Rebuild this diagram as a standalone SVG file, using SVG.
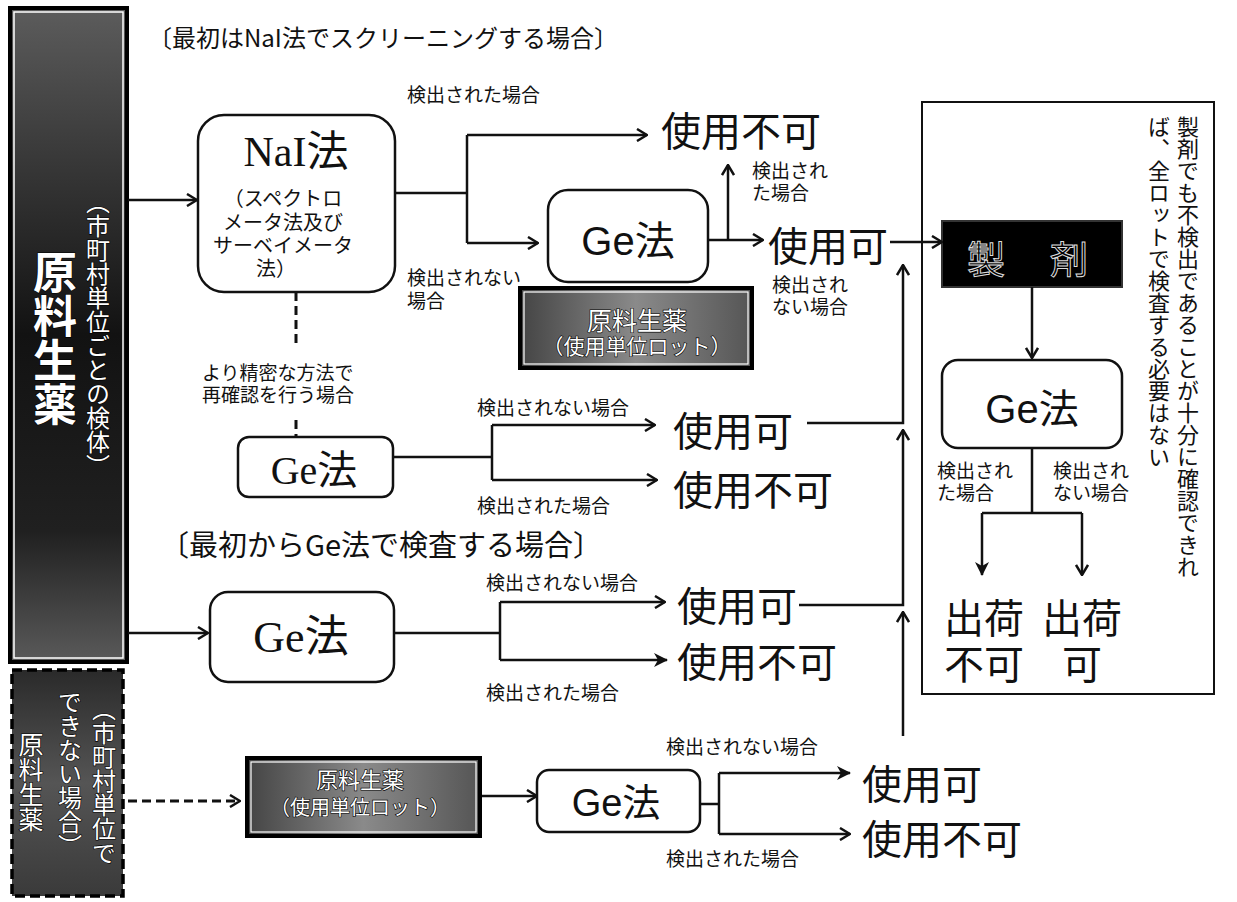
<svg xmlns="http://www.w3.org/2000/svg" width="1237" height="902" viewBox="0 0 1237 902">
<style>
.bg{fill:#fff}
.ln{fill:none;stroke:#111;stroke-width:2.5}
.dash{fill:none;stroke:#111;stroke-width:3;stroke-dasharray:9 5}
.box{fill:#fff;stroke:#111;stroke-width:2.5}
.jp{font-family:"Noto Sans CJK JP","Noto Sans CJK SC",sans-serif;fill:#111}
.big{font-family:"Noto Sans CJK JP",sans-serif;font-size:40px;fill:#111}
.lab{font-family:"Noto Sans CJK JP",sans-serif;font-size:19px;fill:#111}
.ser{font-family:"Liberation Serif","Noto Sans CJK JP",serif;fill:#111}
.san{font-family:"Liberation Sans","Noto Sans CJK JP",sans-serif;fill:#111}
.wt{font-family:"Noto Sans CJK JP",sans-serif;fill:#fff;stroke:#000;stroke-width:1.2;paint-order:stroke}
.vt{writing-mode:vertical-rl}
</style>
<defs>
<marker id="ah" viewBox="0 0 12 14" refX="11" refY="7" markerWidth="12" markerHeight="14" markerUnits="userSpaceOnUse" orient="auto">
<path d="M1,1 L11,7 L1,13" fill="none" stroke="#111" stroke-width="2.5"/>
</marker>
<marker id="af" viewBox="0 0 14 14" refX="13" refY="7" markerWidth="14" markerHeight="14" markerUnits="userSpaceOnUse" orient="auto">
<path d="M0,0 L14,7 L0,14 L4,7 Z" fill="#111"/>
</marker>
<linearGradient id="dk" x1="0" y1="0" x2="0" y2="1">
<stop offset="0" stop-color="#5c5c5c"/>
<stop offset="0.22" stop-color="#3a3a3a"/>
<stop offset="0.5" stop-color="#121212"/>
<stop offset="0.8" stop-color="#202020"/>
<stop offset="1" stop-color="#5a5a5a"/>
</linearGradient>
<linearGradient id="dk2" x1="0" y1="0" x2="0" y2="1">
<stop offset="0" stop-color="#2a2a2a"/>
<stop offset="0.5" stop-color="#555"/>
<stop offset="1" stop-color="#3a3a3a"/>
</linearGradient>
<linearGradient id="gr" x1="0" y1="0" x2="1" y2="0">
<stop offset="0" stop-color="#444"/>
<stop offset="0.5" stop-color="#8a8a8a"/>
<stop offset="1" stop-color="#555"/>
</linearGradient>
</defs>
<rect class="bg" x="0" y="0" width="1237" height="902"/>

<text id="title1" class="jp" x="148" y="47" font-size="24">〔最初はNaI法でスクリーニングする場合〕</text>
<text id="title2" class="jp" x="160" y="556" font-size="29">〔最初からGe法で検査する場合〕</text>

<g id="src-main">
<rect x="10" y="8" width="117" height="654" fill="url(#dk)" stroke="#000" stroke-width="4"/>
<rect x="14" y="12" width="109" height="646" fill="none" stroke="#fff" stroke-width="1.5"/>
<text class="wt vt" x="55" y="250" font-size="44" font-weight="700" stroke-width="1.5">原料生薬</text>
<text class="wt vt" x="98" y="190" font-size="24">（市町村単位ごとの検体）</text>
</g>

<g id="src-other">
<rect x="12" y="670" width="111" height="226" fill="url(#dk2)" stroke="#000" stroke-width="3.5" stroke-dasharray="10 5"/>
<text class="wt vt" x="104" y="697" font-size="24">（市町村単位で</text>
<text class="wt vt" x="70" y="690" font-size="24">できない場合）</text>
<text class="wt vt" x="31" y="732" font-size="25">原料生薬</text>
</g>

<g id="nai">
<rect class="box" x="198" y="115" width="197" height="177" rx="26"/>
<text class="ser" x="296" y="166" font-size="42" text-anchor="middle">NaI法</text>
<text class="jp" font-size="20" text-anchor="middle"><tspan x="283" y="206">（スペクトロ</tspan><tspan x="283" y="230">メータ法及び</tspan><tspan x="283" y="253">サーベイメータ</tspan><tspan x="276" y="276">法）</tspan></text>
</g>

<g id="ge1">
<rect class="box" x="548" y="190" width="160" height="92" rx="20"/>
<text class="san" x="628" y="255" font-size="40" text-anchor="middle">Ge法</text>
</g>

<g id="raw1">
<rect x="520" y="288" width="232" height="80" fill="url(#gr)" stroke="#000" stroke-width="4"/>
<rect x="524" y="292" width="224" height="72" fill="none" stroke="#fff" stroke-width="1.2"/>
<text class="wt" text-anchor="middle"><tspan x="637" y="330" font-size="25">原料生薬</tspan><tspan x="637" y="354" font-size="21">（使用単位ロット）</tspan></text>
</g>

<g id="ge2">
<rect class="box" x="238" y="437" width="155" height="60" rx="11"/>
<text class="ser" x="314" y="484" font-size="40" text-anchor="middle">Ge法</text>
</g>

<g id="ge3">
<rect class="box" x="210" y="592" width="184" height="90" rx="18"/>
<text class="ser" x="301" y="652" font-size="44" text-anchor="middle">Ge法</text>
</g>

<g id="raw2">
<rect x="247" y="758" width="233" height="78" fill="url(#gr)" stroke="#000" stroke-width="4"/>
<rect x="251" y="762" width="225" height="70" fill="none" stroke="#fff" stroke-width="1.2"/>
<text class="wt" text-anchor="middle"><tspan x="360" y="788" font-size="22">原料生薬</tspan><tspan x="360" y="815" font-size="20">（使用単位ロット）</tspan></text>
</g>

<g id="ge4">
<rect class="box" x="537" y="770" width="163" height="62" rx="12"/>
<text class="san" x="616" y="816" font-size="38" text-anchor="middle">Ge法</text>
</g>

<g id="results">
<text class="big" x="661" y="146">使用不可</text>
<text class="big" x="768" y="261">使用可</text>
<text class="big" x="673" y="446">使用可</text>
<text class="big" x="673" y="505">使用不可</text>
<text class="big" x="677" y="621">使用可</text>
<text class="big" x="677" y="677">使用不可</text>
<text class="big" x="862" y="799">使用可</text>
<text class="big" x="862" y="854">使用不可</text>
</g>

<g id="labels">
<text class="lab" x="407" y="102">検出された場合</text>
<text class="lab"><tspan x="407" y="285">検出されない</tspan><tspan x="407" y="308">場合</tspan></text>
<text class="lab"><tspan x="752" y="178">検出され</tspan><tspan x="752" y="200">た場合</tspan></text>
<text class="lab"><tspan x="772" y="292">検出され</tspan><tspan x="772" y="314">ない場合</tspan></text>
<text class="lab" font-size="20"><tspan x="202" y="380">より精密な方法で</tspan><tspan x="202" y="402">再確認を行う場合</tspan></text>
<text class="lab" x="477" y="415">検出されない場合</text>
<text class="lab" x="477" y="513">検出された場合</text>
<text class="lab" x="486" y="590">検出されない場合</text>
<text class="lab" x="486" y="700">検出された場合</text>
<text class="lab" x="666" y="754">検出されない場合</text>
<text class="lab" x="666" y="866">検出された場合</text>
</g>

<g id="product-panel">
<rect x="922" y="102" width="292" height="592" fill="none" stroke="#111" stroke-width="2"/>
<text class="jp vt" font-size="22"><tspan x="1188" y="116">製剤でも不検出であることが十分に確認できれ</tspan><tspan x="1159" y="116">ば、全ロットで検査する必要はない</tspan></text>
</g>

<g id="seizai">
<rect x="942" y="221" width="180" height="66" fill="#000" stroke="#333" stroke-width="2"/>
<text font-size="38" font-family="Noto Sans CJK JP,sans-serif" fill="#000" stroke="#ddd" stroke-width="1"><tspan x="967" y="273">製</tspan><tspan x="1050" y="273">剤</tspan></text>
</g>

<g id="ge5">
<rect class="box" x="942" y="360" width="180" height="88" rx="16"/>
<text class="san" x="1032" y="423" font-size="40" text-anchor="middle">Ge法</text>
</g>

<g id="ship">
<text class="big"><tspan x="944" y="633">出荷</tspan><tspan x="944" y="679">不可</tspan></text>
<text class="big"><tspan x="1042" y="633">出荷</tspan><tspan x="1062" y="679">可</tspan></text>
<text class="lab"><tspan x="937" y="478">検出され</tspan><tspan x="937" y="500">た場合</tspan></text>
<text class="lab"><tspan x="1053" y="478">検出され</tspan><tspan x="1053" y="500">ない場合</tspan></text>
</g>

<g id="connectors">
<path class="ln" d="M128,200 H197" marker-end="url(#ah)"/>
<path class="ln" d="M395,193 H467"/>
<path class="ln" d="M467,135 V243"/>
<path class="ln" d="M467,135 H647" marker-end="url(#ah)"/>
<path class="ln" d="M467,243 H538" marker-end="url(#ah)"/>
<path class="ln" d="M708,240 H763" marker-end="url(#ah)"/>
<path class="ln" d="M728,240 V165" marker-end="url(#ah)"/>
<path class="ln" d="M890,242 H942" marker-end="url(#ah)"/>
<path class="dash" d="M296,292 V348"/>
<path class="dash" d="M296,420 V437"/>
<path class="ln" d="M393,457 H492"/>
<path class="ln" d="M492,425 V480"/>
<path class="ln" d="M492,425 H655" marker-end="url(#ah)"/>
<path class="ln" d="M492,480 H657" marker-end="url(#ah)"/>
<path class="ln" d="M807,423 H903 V265" marker-end="url(#ah)"/>
<path class="ln" d="M128,633 H208" marker-end="url(#ah)"/>
<path class="ln" d="M394,633 H500"/>
<path class="ln" d="M500,602 V660"/>
<path class="ln" d="M500,602 H665" marker-end="url(#ah)"/>
<path class="ln" d="M500,660 H667" marker-end="url(#af)"/>
<path class="ln" d="M799,605 H903 V430" marker-end="url(#ah)"/>
<path class="ln" d="M903,736 V612" marker-end="url(#ah)"/>
<path class="dash" d="M128,801 H240" marker-end="url(#ah)"/>
<path class="ln" d="M482,796 H537" marker-end="url(#ah)"/>
<path class="ln" d="M700,804 H719"/>
<path class="ln" d="M719,773 V834"/>
<path class="ln" d="M719,773 H850" marker-end="url(#af)"/>
<path class="ln" d="M719,834 H850" marker-end="url(#ah)"/>
<path class="ln" d="M1032,287 V358" marker-end="url(#ah)"/>
<path class="ln" d="M1032,448 V513"/>
<path class="ln" d="M982,513 H1082"/>
<path class="ln" d="M982,513 V575" marker-end="url(#af)"/>
<path class="ln" d="M1082,513 V575" marker-end="url(#ah)"/>
</g>
</svg>
